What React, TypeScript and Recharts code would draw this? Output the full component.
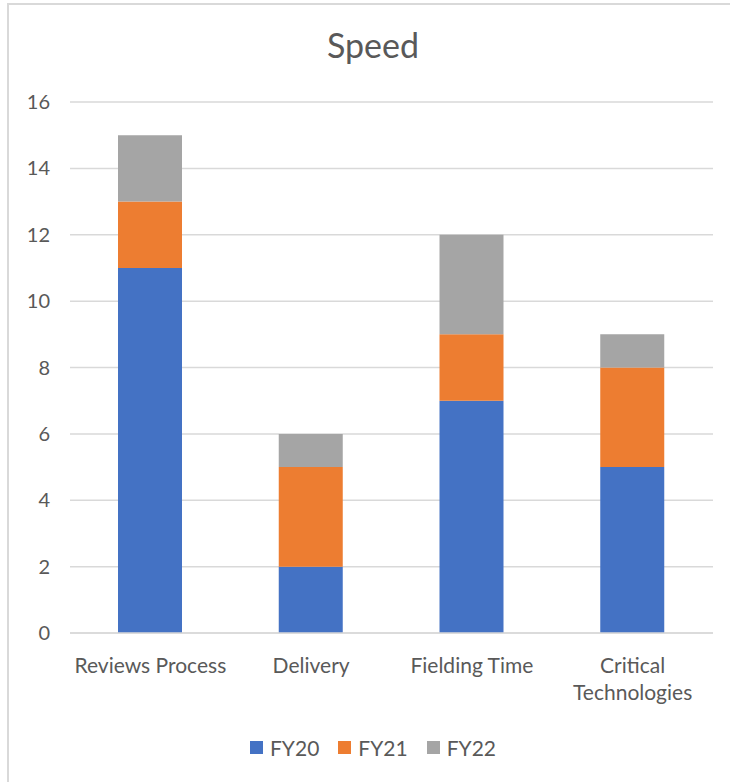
import { BarChart, Bar, XAxis, YAxis, CartesianGrid } from 'recharts'

const categories = ['Reviews Process', 'Delivery', 'Fielding Time', 'Critical Technologies']
const fy20 = [11, 2, 7, 5]
const fy21 = [2, 3, 2, 3]
const fy22 = [2, 1, 3, 1]
const yTicks = [0, 2, 4, 6, 8, 10, 12, 14, 16]

const series = [
  { key: 'FY20', color: '#4472C4' },
  { key: 'FY21', color: '#ED7D31' },
  { key: 'FY22', color: '#A5A5A5' },
]

const data = categories.map((name, i) => ({
  name,
  FY20: fy20[i],
  FY21: fy21[i],
  FY22: fy22[i],
}))

const FONT = 'Lato, "Open Sans", sans-serif'
const TEXT = '#595959'

// long labels break onto one word per line
function CategoryTick(props: any) {
  const { x, y, payload } = props
  const label: string = payload.value
  const lines = label.length > 16 ? label.split(' ') : [label]
  return (
    <text x={x} y={y} textAnchor="middle" fill={TEXT} fontSize={21} fontFamily={FONT}>
      {lines.map((ln, i) => (
        <tspan key={i} x={x} dy={i === 0 ? 32 : 27}>{ln}</tspan>
      ))}
    </text>
  )
}

export default function App() {
  return (
    <div style={{ position: 'absolute', left: 0, top: 0, width: 730, height: 782, background: '#fff', overflow: 'hidden' }}>
      <div
        style={{
          position: 'absolute', left: 7, top: 3, width: 730, height: 782,
          borderTop: '2px solid #D9D9D9', borderLeft: '2px solid #D9D9D9',
        }}
      />
      <div
        style={{
          position: 'absolute', left: 8, width: 730, top: 24, textAlign: 'center',
          fontFamily: FONT, fontSize: 34, color: TEXT,
        }}
      >
        Speed
      </div>
      <div style={{ position: 'absolute', left: 0, top: 0 }}>
        <BarChart width={730} height={782} data={data} margin={{ top: 102, right: 17, bottom: 69, left: 0 }}>
          <CartesianGrid vertical={false} stroke="#D9D9D9" strokeWidth={1.5} />
          <XAxis
            dataKey="name"
            height={80}
            interval={0}
            tickLine={false}
            axisLine={{ stroke: '#D9D9D9', strokeWidth: 1.5 }}
            tick={<CategoryTick />}
          />
          <YAxis
            width={70}
            domain={[0, 16]}
            ticks={yTicks}
            tickLine={false}
            axisLine={false}
            tickMargin={14}
            tick={{ fill: TEXT, fontSize: 20, fontFamily: FONT }}
          />
          {series.map((s) => (
            <Bar key={s.key} dataKey={s.key} stackId="speed" fill={s.color} barSize={64} isAnimationActive={false} />
          ))}
        </BarChart>
      </div>
      <div
        style={{
          position: 'absolute', left: 8, width: 730, top: 735, display: 'flex', justifyContent: 'center',
          gap: 19, fontFamily: FONT, fontSize: 21, color: TEXT,
        }}
      >
        {series.map((s) => (
          <div key={s.key} style={{ display: 'flex', alignItems: 'center', gap: 7 }}>
            <span style={{ display: 'inline-block', width: 13, height: 13, background: s.color }} />
            <span>{s.key}</span>
          </div>
        ))}
      </div>
    </div>
  )
}
